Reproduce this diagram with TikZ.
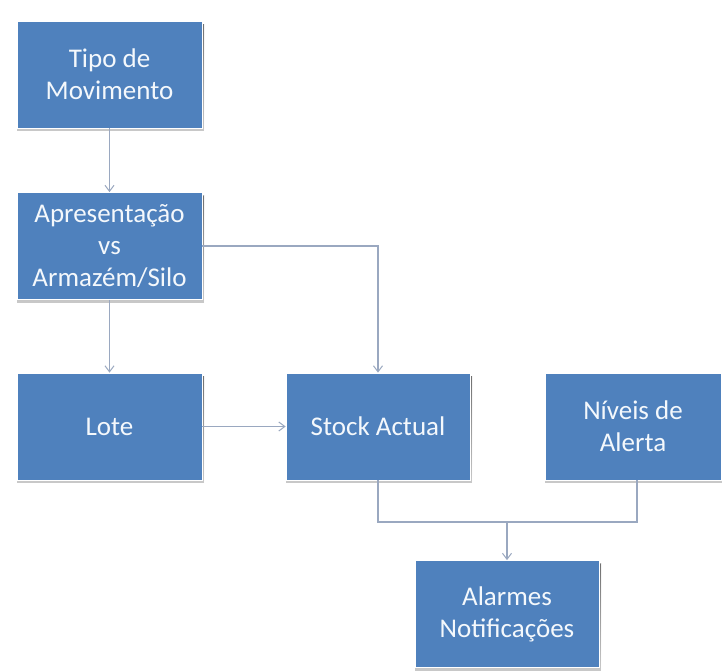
\documentclass[tikz,border=0pt]{standalone}
\usepackage{fontspec}
\setmainfont{Carlito}
\usetikzlibrary{arrows.meta}
\definecolor{boxblue}{HTML}{4F81BD}
\definecolor{boxtext}{HTML}{F4F8FC}
\definecolor{linkgray}{HTML}{9AA8C0}
\definecolor{shade}{HTML}{E2E2E2}
\begin{document}
\begin{tikzpicture}[x=1pt,y=-1pt,
  block/.style={rectangle, fill=boxblue, draw=white, line width=0.8pt,
    text=boxtext, align=center, inner sep=0pt,
    font=\fontsize{27}{32}\selectfont,
    minimum width=#1, minimum height=107pt},
  block/.default=185pt,
  link/.style={draw=linkgray, line width=1.1pt,
    -{Straight Barb[length=6pt,width=9pt,line width=1pt]}},
  plain/.style={draw=linkgray, line width=1.1pt}]
\useasboundingbox (0,0) rectangle (722,670);
\fill[white] (0,0) rectangle (722,670);

% faint drop shadows under the blocks
\foreach \cx/\cy/\w in {109.5/74.5/185, 109.5/246/185, 109.5/426.5/185,
                         378/426.5/184, 633/426.5/176, 507/614/184}
  \fill[shade, opacity=0.7] (\cx-\w/2, \cy-53.5+3) rectangle (\cx+\w/2+2, \cy+53.5+3);

\node[block] (tipo)    at (109.5,74.5)  {Tipo de\\Movimento};
\node[block] (apres)   at (109.5,246)   {Apresentação\\vs\\Armazém/Silo};
\node[block] (lote)    at (109.5,426.5) {Lote};
\node[block=184pt] (stock)   at (378,426.5)   {Stock Actual};
\node[block=176pt] (niveis)  at (633,426.5)   {Níveis de\\Alerta};
\node[block=184pt] (alarmes) at (507,614)     {Alarmes\\Notificações};

\coordinate (join) at (507,522);

\draw[link] (tipo.south) -- (apres.north);
\draw[link] (apres.south) -- (lote.north);
\draw[link] (apres.east) -| (stock.north);
\draw[link] (lote.east) -- (stock.west);
\draw[plain] (stock.south) |- (join);
\draw[plain] ([xshift=4pt]niveis.south) |- (join);
\draw[link] (join) -- (alarmes.north);
\end{tikzpicture}
\end{document}
